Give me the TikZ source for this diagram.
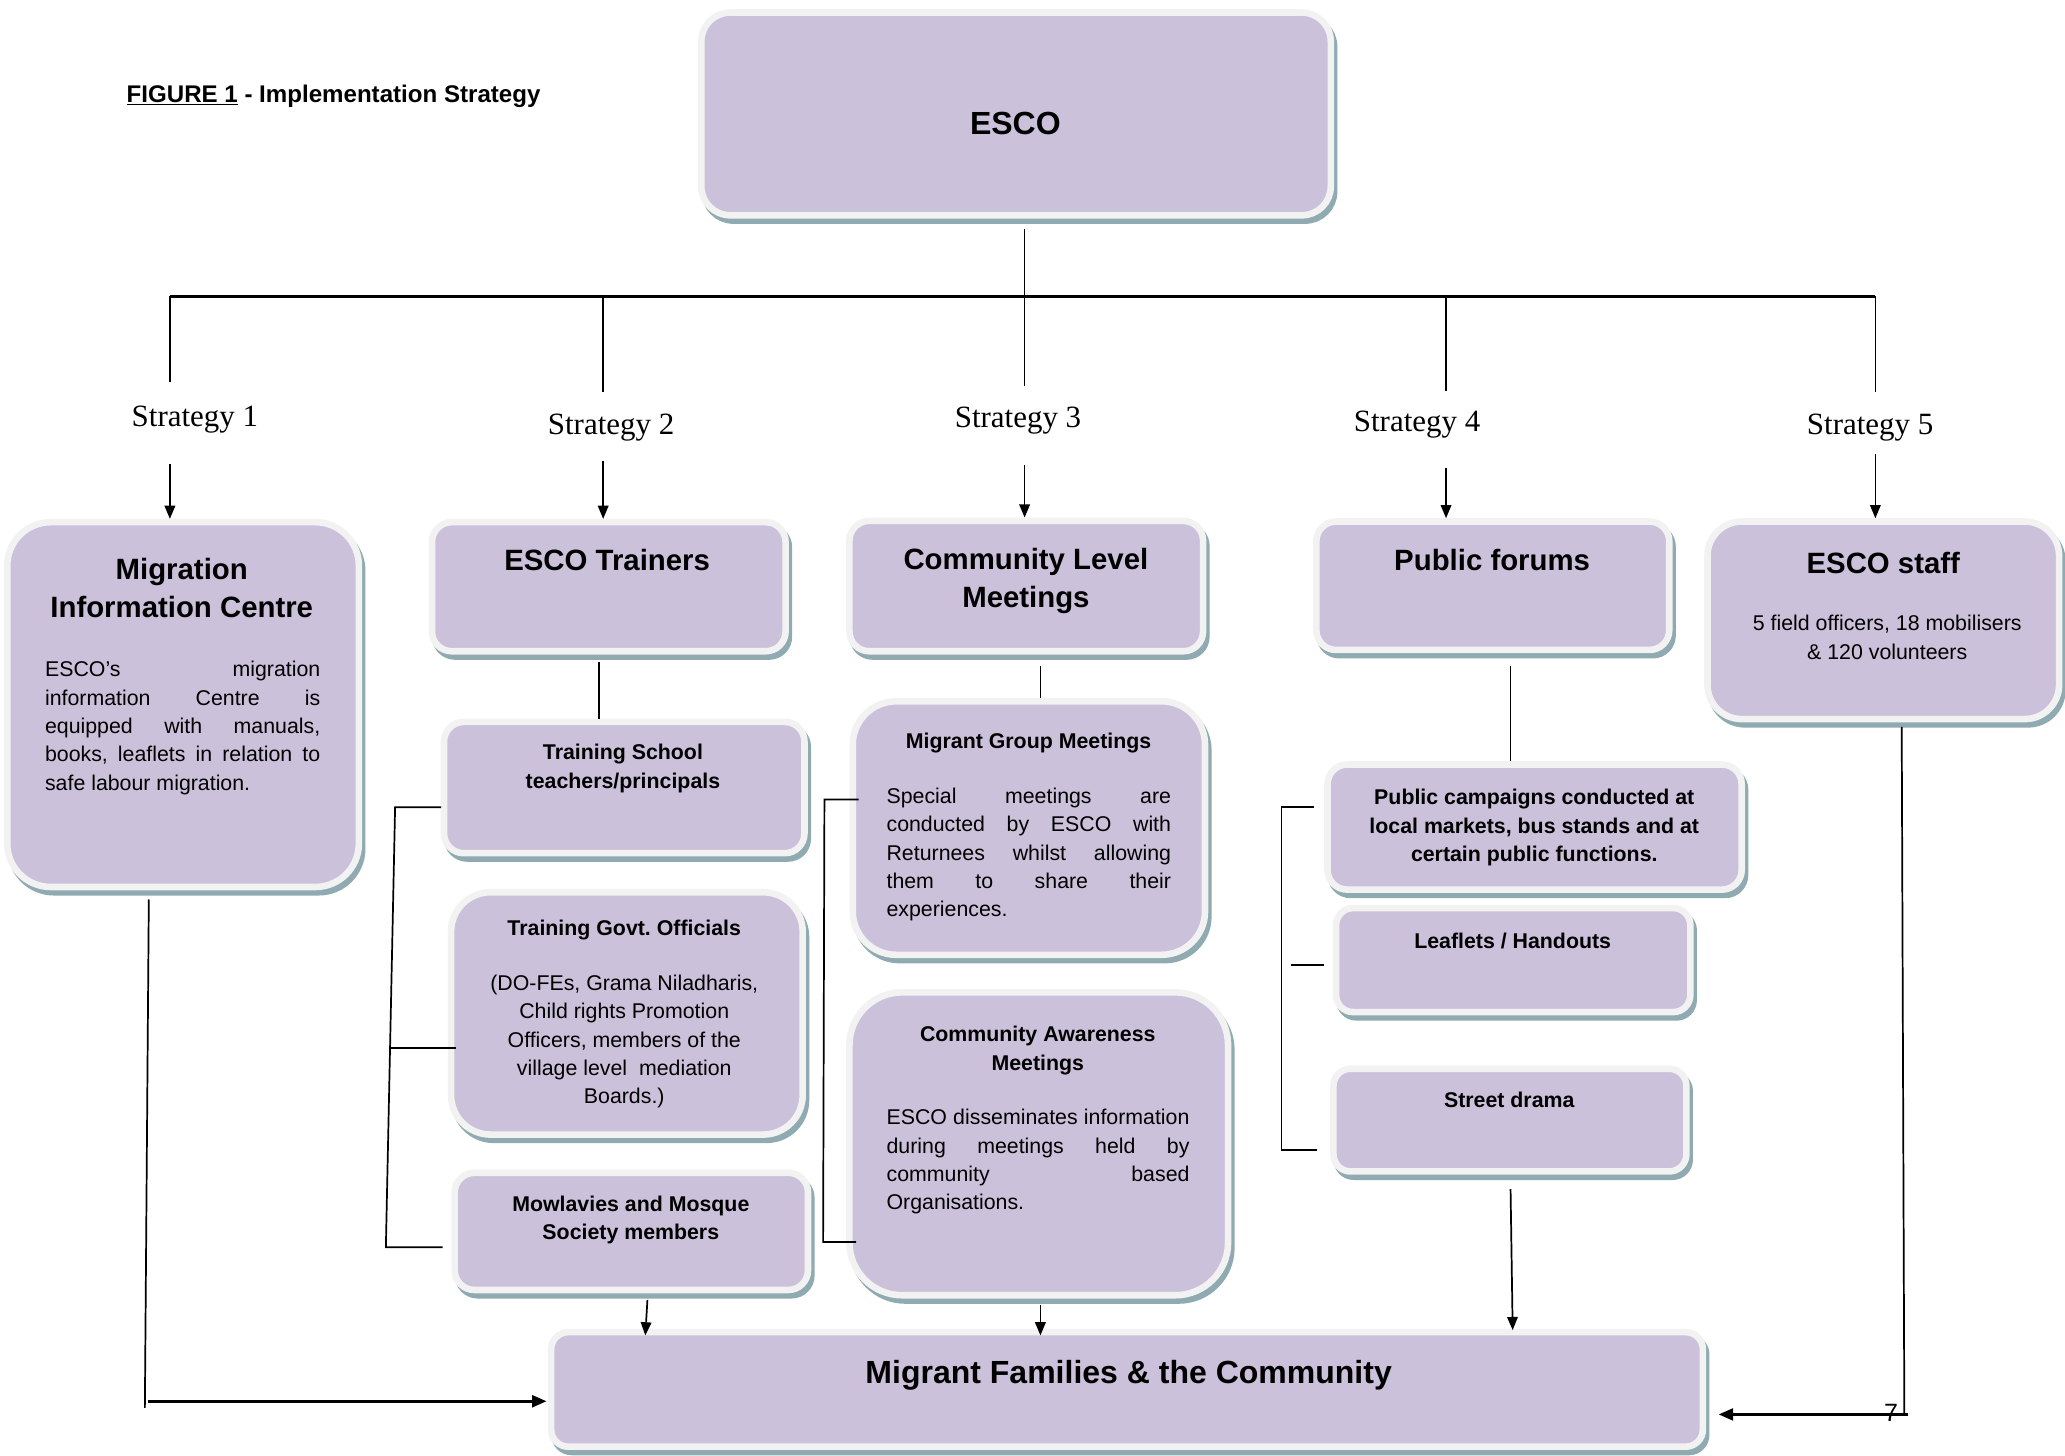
\documentclass[tikz,border=0pt]{standalone}
\usepackage{fontspec}
\newfontfamily\arial{Liberation Sans}
\newfontfamily\serifx{Liberation Serif}
\usetikzlibrary{arrows.meta}
\definecolor{boxfill}{HTML}{CCC1DA}
\definecolor{boxline}{HTML}{F2F2F2}
\definecolor{shadowcol}{HTML}{8FAAB0}
\frenchspacing
\newcommand\st{\rule[\dimexpr0.36em-0.5\baselineskip\relax]{0pt}{\baselineskip}}
\newcommand\fb{\arial\fontsize{16.2}{21.5}\selectfont}
\newcommand\fbb{\arial\bfseries\fontsize{16.2}{21.5}\selectfont}
\newcommand\ft{\arial\bfseries\fontsize{22.3}{29}\selectfont}
\newcommand\fe{\arial\bfseries\fontsize{24.3}{30}\selectfont}
\newcommand\fs{\serifx\fontsize{23.5}{27}\selectfont}
\newcommand\jl[2]{\makebox[#1pt][s]{\st #2}}
\tikzset{
  bx/.style={rectangle, rounded corners=#1, fill=boxfill, draw=boxline, line width=5pt, inner sep=0pt,
    preaction={draw=shadowcol, fill=shadowcol, line width=5pt, transform canvas={shift={(2.5pt,-4pt)}}}},
  tx/.style={inner sep=0pt, align=center, anchor=north},
  tl/.style={inner sep=0pt, align=left, anchor=north west},
  ln/.style={line width=1.3pt},
  barline/.style={line width=1.8pt},
  arr/.style={line width=1.3pt, -{Triangle[length=10pt,width=8pt]}},
  arrb/.style={line width=2pt, -{Triangle[length=11pt,width=9pt]}}
}
\begin{document}
\begin{tikzpicture}[x=1pt,y=-1pt]
\useasboundingbox (0,0) rectangle (1568,1105);
% ---------- boxes ----------
\node[bx=22pt, minimum width=478pt, minimum height=154pt] (esco) at (771.5,86.5) {};
\node[bx=33pt, minimum width=267pt, minimum height=277pt] (mig) at (139,535) {};
\node[bx=15pt, minimum width=268.5pt, minimum height=98pt] (trainers) at (462.25,445.5) {};
\node[bx=15pt, minimum width=268.5pt, minimum height=99pt] (clm) at (779.25,445) {};
\node[bx=15pt, minimum width=268pt, minimum height=97.5pt] (pf) at (1133.5,444.75) {};
\node[bx=26pt, minimum width=267pt, minimum height=150pt] (staff) at (1430,471) {};
\node[bx=15pt, minimum width=273.7pt, minimum height=99.7pt] (school) at (474,598) {};
\node[bx=30pt, minimum width=267pt, minimum height=184pt] (govt) at (476,769.5) {};
\node[bx=15pt, minimum width=268.3pt, minimum height=89pt] (mow) at (479.4,935) {};
\node[bx=33pt, minimum width=267.5pt, minimum height=192.5pt] (mgm) at (781.25,628.75) {};
\node[bx=40pt, minimum width=287.5pt, minimum height=230pt] (cam) at (788.75,868.5) {};
\node[bx=15pt, minimum width=314.5pt, minimum height=95pt] (pc) at (1165.25,628) {};
\node[bx=13pt, minimum width=269pt, minimum height=79pt] (leaf) at (1149,729) {};
\node[bx=13pt, minimum width=268pt, minimum height=78pt] (sd) at (1146.5,850.5) {};
\node[bx=13pt, minimum width=874.5pt, minimum height=87pt] (fam) at (855.75,1055) {};
% ---------- texts ----------
\node[tl, font=\arial\bfseries\fontsize{18.3}{22}\selectfont] (ttl) at (96,60) {\st\underline{FIGURE 1} - Implementation Strategy};
\node[tx, font=\fe] (tesco) at (771,78) {\st ESCO};
\node[tx, font=\ft] (tmig) at (138,417.5) {\st Migration\\\st Information Centre};
\node[tl, font=\fb] (tmigb) at (34,497.25) {\jl{209}{ESCO’s migration}\\\jl{209}{information Centre is}\\\jl{209}{equipped with manuals,}\\\jl{209}{books, leaflets in relation to}\\\st safe labour migration.};
\node[tx, font=\ft] (ttrain) at (461,410.5) {\st ESCO Trainers};
\node[tx, font=\ft] (tclm) at (779,409.5) {\st Community Level\\\st Meetings};
\node[tx, font=\ft] (tpf) at (1133,410.5) {\st Public forums};
\node[tx, font=\ft] (tstaff) at (1430,412.5) {\st ESCO staff};
\node[tx, font=\fb] (tstaffb) at (1433,462.25) {\st 5 field officers, 18 mobilisers\\\st\& 120 volunteers};
\node[tx, font=\fbb] (tschool) at (473,560.25) {\st Training School\\\st teachers/principals};
\node[tx, font=\fbb] (tgovt) at (474,693.25) {\st Training Govt. Officials};
\node[tx, font=\fb] (tgovtb) at (474,735.25) {\st (DO-FEs, Grama Niladharis,\\\st Child rights Promotion\\\st Officers, members of the\\\st village level\ \ mediation\\\st Boards.)};
\node[tx, font=\fbb] (tmow) at (479,903.25) {\st Mowlavies and Mosque\\\st Society members};
\node[tx, font=\fbb] (tmgm) at (781,551.25) {\st Migrant Group Meetings};
\node[tl, font=\fb] (tmgmb) at (673,593.25) {\jl{216}{Special meetings are}\\\jl{216}{conducted by ESCO with}\\\jl{216}{Returnees whilst allowing}\\\jl{216}{them to share their}\\\st experiences.};
\node[tx, font=\fbb] (tcam) at (788,774.25) {\st Community Awareness\\\st Meetings};
\node[tl, font=\fb] (tcamb) at (673,837.25) {\jl{230}{ESCO disseminates information}\\\jl{230}{during meetings held by}\\\jl{230}{community based}\\\st Organisations.};
\node[tx, font=\fbb] (tpc) at (1165,594.25) {\st Public campaigns conducted at\\\st local markets, bus stands and at\\\st certain public functions.};
\node[tx, font=\fbb] (tleaf) at (1148.6,703.25) {\st Leaflets / Handouts};
\node[tx, font=\fbb] (tsd) at (1146,824.25) {\st Street drama};
\node[tx, font=\fe] (tfam) at (857,1026.5) {\st Migrant Families \& the Community};
\node[tx, font=\fs] (s1) at (148,301.5) {\st Strategy 1};
\node[tx, font=\fs] (s2) at (464,307.5) {\st Strategy 2};
\node[tx, font=\fs] (s3) at (773,302.5) {\st Strategy 3};
\node[tx, font=\fs] (s4) at (1076,305.5) {\st Strategy 4};
\node[tx, font=\fs] (s5) at (1420,307.5) {\st Strategy 5};
% ---------- connectors ----------
\coordinate (c1) at (129,225); \coordinate (c2) at (458,225); \coordinate (c3) at (778,225);
\coordinate (c4) at (1098,225); \coordinate (c5) at (1424,225);
\coordinate (e0) at (778,174);
\coordinate (d1) at (129,290); \coordinate (d2) at (458,298); \coordinate (d3) at (778,293);
\coordinate (d4) at (1098,297); \coordinate (d5) at (1424,298);
\draw[barline] (c1) -- (c5);
\draw[ln] (e0) -- (d3);
\draw[ln] (c1) -- (d1);
\draw[ln] (c2) -- (d2);
\draw[ln] (c4) -- (d4);
\draw[ln] (c5) -- (d5);
\coordinate (a1) at (129,352); \coordinate (a2) at (458,350); \coordinate (a3) at (778,353);
\coordinate (a4) at (1098,355); \coordinate (a5) at (1424,345);
\draw[arr] (a1) -- (a1 |- mig.north);
\draw[arr] (a2) -- (a2 |- trainers.north);
\draw[arr] (a3) -- (a3 |- clm.north);
\draw[arr] (a4) -- (a4 |- pf.north);
\draw[arr] (a5) -- (a5 |- staff.north);
% column 2
\coordinate (k1) at (455,503);
\draw[ln] (k1) -- (k1 |- school.north);
\draw[ln] (335,613) -- (300,613) -- (293,947) -- (336,947);
\draw[ln] (297,796) -- (346,796);
% column 3
\coordinate (k2) at (790,506);
\draw[ln] (k2) -- (k2 |- mgm.north);
\draw[ln] (652,607) -- (626,607) -- (625,943) -- (650,943);
% column 4
\coordinate (k3) at (1147,506);
\draw[ln] (k3) -- (k3 |- pc.north);
\draw[ln] (998,613) -- (973,613) -- (973,873) -- (1000,873);
\draw[ln] (980,733) -- (1005,733);
% into families
\coordinate (m1) at (491.6,987); \coordinate (m1e) at (490,1014);
\draw[arr] (m1) -- (m1e);
\coordinate (m2) at (790,991); \coordinate (m2e) at (790,1014);
\draw[arr] (m2) -- (m2e);
\coordinate (m3) at (1147,903); \coordinate (m3e) at (1148.6,1010);
\draw[arr] (m3) -- (m3e);
\coordinate (l1) at (113,683); \coordinate (l2) at (110,1069);
\draw[ln] (l1) -- (l2);
\coordinate (l3) at (112,1064); \coordinate (l4) at (415,1064);
\draw[arrb] (l3) -- (l4);
\coordinate (r1) at (1444,552); \coordinate (r2) at (1446,1074.5);
\draw[ln] (r1) -- (r2);
\coordinate (r3) at (1449,1074); \coordinate (r4) at (1305,1074);
\draw[arrb] (r3) -- (r4);
\node[inner sep=0pt, font=\arial\fontsize{19}{19}\selectfont] (seven) at (1436,1073) {7};
\end{tikzpicture}
\end{document}
